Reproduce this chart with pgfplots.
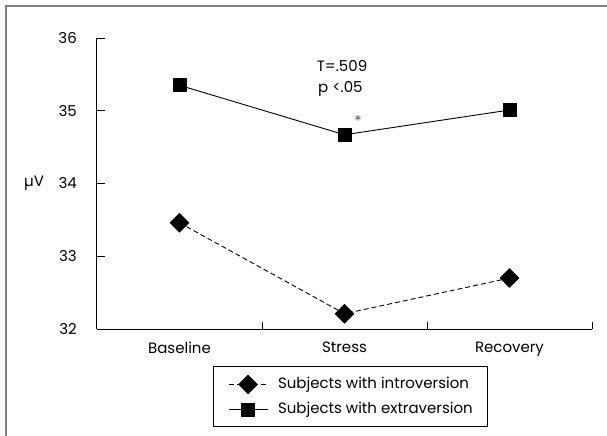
\documentclass[border=0pt]{standalone}
\usepackage{fontspec}
\setmainfont{Poppins}
\usepackage{pgfplots}
\pgfplotsset{compat=1.18}
\definecolor{framegray}{RGB}{128,128,128}
\begin{document}
\begin{tikzpicture}[font=\fontsize{15bp}{17bp}\selectfont]
\begin{axis}[
  name=ax,
  at={(0,0)}, anchor=south west,
  scale only axis,
  width=495bp, height=291bp,
  xmin=-0.5, xmax=2.5, ymin=32, ymax=36,
  axis lines*=left,
  axis line style={line width=1bp},
  tick align=inside,
  major tick length=7.5bp,
  tick style={black, line width=0.8bp},
  xtick={0.5,1.5,2.5}, xticklabels={},
  extra x ticks={0,1,2},
  extra x tick labels={Baseline,Stress,Recovery},
  extra x tick style={major tick length=0pt},
  ytick={32,33,34,35,36},
  /pgf/number format/assume math mode=true,
  yticklabel style={inner sep=0pt, xshift=-20bp},
  xticklabel style={inner sep=0pt, yshift=-13bp},
  ylabel={µV},
  ylabel style={rotate=-90, at={(axis description cs:-0.127,0.5)}, anchor=center},
  clip=false,
  legend style={at={(axis description cs:0.234,-0.127)}, anchor=north west,
    draw=black, line width=0.6bp, inner xsep=15bp, inner ysep=9bp,
    row sep=9bp,
    nodes={inner sep=0pt, text height=11bp, text depth=3.5bp},
    /tikz/every odd column/.append style={column sep=10bp}},
  legend cell align=left,
  legend image code/.code={
    \draw[mark repeat=2,mark phase=2,#1] plot coordinates {(0bp,0bp) (19.5bp,0bp) (39bp,0bp)};
  },
]
\addplot[black, line width=0.9bp, dash pattern=on 5bp off 3bp, mark=square*, mark size=6.5bp, mark options={rotate=45, solid}]
  coordinates {(0,33.46) (1,32.21) (2,32.70)};
\addlegendentry{Subjects with introversion}
\addplot[black, line width=0.9bp, solid, mark=square*, mark size=6.5bp]
  coordinates {(0,35.35) (1,34.67) (2,35.01)};
\addlegendentry{Subjects with extraversion}
\node at (axis cs:0.985,35.62) {T=.509};
\node at (axis cs:0.975,35.30) {p <.05};
\node[text=black!65, font=\fontsize{15bp}{16bp}\selectfont] at (axis cs:1.082,34.86) {*};
\end{axis}
\pgfresetboundingbox
\useasboundingbox (-97bp,-107bp) rectangle (510bp,329bp);
\draw[framegray, line width=2bp] (-91bp,-110bp) -- (-91bp,323bp) -- (515bp,323bp);
\end{tikzpicture}
\end{document}
